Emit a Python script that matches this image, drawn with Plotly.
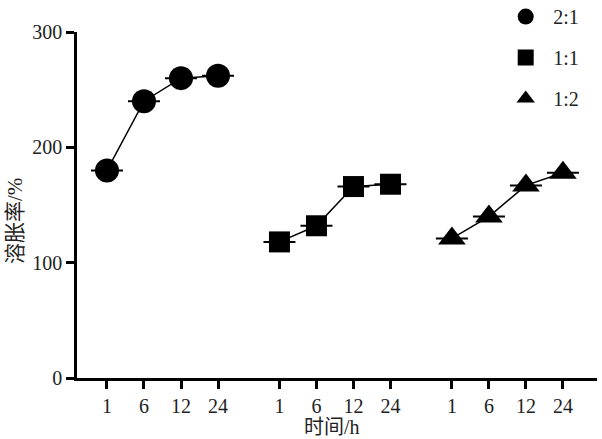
import plotly.graph_objects as go

# swelling ratio (%) over time for three mass ratios
times = ['1', '6', '12', '24']
ratios = ['2:1', '1:1', '1:2']
swell_21 = [180, 240, 260, 262]
swell_11 = [118, 132, 166, 168]
swell_12 = [121, 140, 167, 178]
sd_21 = [0, 0, 0, 0]
sd_11 = [0, 0, 0, 0]
sd_12 = [0, 0, 0, 0]

series = [swell_21, swell_11, swell_12]
errors = [sd_21, sd_11, sd_12]
symbols = ['circle', 'square', 'triangle-up']
sizes = [24, 21, 24]

group_gap = 4.66
serif = 'Liberation Serif, Times New Roman, serif'
mixed = 'Liberation Serif, Noto Sans CJK SC, serif'

fig = go.Figure()
tickvals, ticktext = [], []
for g, (name, ys, es) in enumerate(zip(ratios, series, errors)):
    xs = [g * group_gap + i for i in range(len(times))]
    tickvals += xs
    ticktext += times
    fig.add_trace(go.Scatter(
        x=xs, y=ys, mode='lines',
        line=dict(color='black', width=1.5),
        showlegend=False, hoverinfo='skip',
    ))
    fig.add_trace(go.Scatter(
        x=xs, y=ys, mode='markers', name=name,
        legendgroup=name,
        marker=dict(symbol=symbols[g], size=sizes[g], color='black'),
        error_y=dict(type='data', array=es, color='black', thickness=2, width=16),
    ))

fig.update_layout(
    width=602, height=439,
    margin=dict(l=77, r=5, t=32, b=61, autoexpand=False),
    plot_bgcolor='white', paper_bgcolor='white',
    font=dict(family=serif, size=20, color='#222'),
    legend=dict(
        x=0.81, y=1.101, xanchor='left', yanchor='top',
        font=dict(family=serif, size=20),
        traceorder='grouped', tracegroupgap=12, itemwidth=45,
        itemsizing='trace', bgcolor='rgba(0,0,0,0)',
    ),
    xaxis=dict(
        range=[-0.81, 13.24], tickvals=tickvals, ticktext=ticktext,
        showgrid=False, zeroline=False,
        showline=True, linecolor='black', linewidth=2.5,
        ticks='outside', ticklen=8, tickwidth=2.5, tickcolor='black',
    ),
    yaxis=dict(
        range=[0, 300], tickvals=[0, 100, 200, 300],
        showgrid=False, zeroline=False,
        showline=True, linecolor='black', linewidth=2.5,
        ticks='outside', ticklen=8, tickwidth=2.5, tickcolor='black',
    ),
    annotations=[
        dict(text='时间/h', xref='paper', yref='paper', x=0.49, y=-0.142,
             xanchor='center', yanchor='middle', showarrow=False,
             font=dict(family=mixed, size=20, color='#222')),
        dict(text='溶胀率/%', xref='paper', yref='paper', x=-0.119, y=0.454,
             xanchor='center', yanchor='middle', showarrow=False, textangle=-90,
             font=dict(family=mixed, size=21, color='#222')),
    ],
)

# drop the default 8px body margin so the figure fills the window
fig.write_html('out.html', config={'displayModeBar': False},
               post_script="document.body.style.margin='0';"
               "document.body.style.overflow='hidden';")
